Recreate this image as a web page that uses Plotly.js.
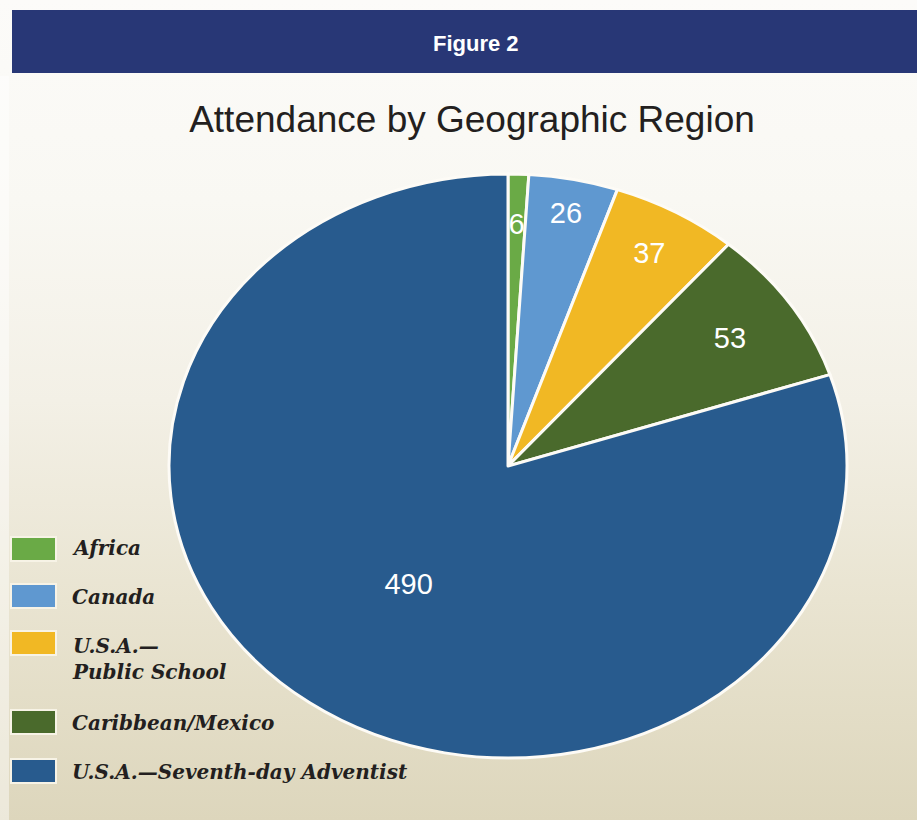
<!DOCTYPE html>
<html><head><meta charset="utf-8">
<script src="https://cdn.plot.ly/plotly-3.0.1.min.js"></script>
<style>
html,body{margin:0;padding:0;background:#fff;}
#chart{width:917px;height:820px;background:linear-gradient(to bottom,#fcfbf9 0px,#f9f8f3 200px,#f3f0e6 400px,#e9e4d1 600px,#ddd6bc 820px);}
.pielayer path.surface{vector-effect:non-scaling-stroke;}
</style></head><body><div id="chart"></div>
<script>
// ---- data ----
const regions = ['Africa', 'Canada', 'U.S.A.—<br>Public School', 'Caribbean/Mexico', 'U.S.A.—Seventh-day Adventist'];
const attendance = [6, 26, 37, 53, 490];
const sliceColors = ['#6aaa46', '#5f98d0', '#f1b824', '#4a6a2c', '#285b8e'];
const chartTitle = 'Attendance by Geographic Region';
const figureLabel = 'Figure 2';

// ---- layout helpers (pixel -> paper) ----
const W = 917, H = 820;
const fx = x => x / W;
const fy = y => 1 - y / H;

const cx = 508, cy = 466, r = 292;      // pie centre / vertical radius (px)
const stretchX = 339 / 292;              // reference pie is an ellipse

const swatchY = [549, 596, 643, 722, 771];
const labelY = [548, 597, 659, 723, 772];

const shapes = [
  {type: 'rect', xref: 'paper', yref: 'paper', x0: fx(12), x1: 1.01, y0: fy(73), y1: fy(10),
   fillcolor: '#283776', line: {width: 0}, layer: 'below'},
  {type: 'rect', xref: 'paper', yref: 'paper', x0: 0, x1: fx(9), y0: 0, y1: fy(76),
   fillcolor: 'rgba(255,255,255,0.45)', line: {width: 0}, layer: 'below'}
];
const annotations = [
  {xref: 'paper', yref: 'paper', x: fx(476), y: fy(43), xanchor: 'center', yanchor: 'middle',
   text: '<b>' + figureLabel + '</b>', showarrow: false,
   font: {family: '"Liberation Sans", Arial, sans-serif', size: 22, color: '#ffffff'}}
];
regions.forEach((lab, i) => {
  shapes.push({type: 'rect', xref: 'paper', yref: 'paper', x0: fx(11), x1: fx(56),
    y0: fy(swatchY[i] + 12), y1: fy(swatchY[i] - 12),
    fillcolor: sliceColors[i], line: {color: '#f7f3e6', width: 2}});
  annotations.push({xref: 'paper', yref: 'paper', x: fx(70), y: fy(labelY[i]),
    xanchor: 'left', yanchor: 'middle', align: 'left', showarrow: false, text: lab,
    font: {family: '"DejaVu Serif", "Liberation Serif", serif', size: 20, color: '#231f20',
           style: 'italic', weight: 'bold'}});
});

const trace = {
  type: 'pie',
  labels: regions,
  values: attendance,
  sort: false,
  direction: 'clockwise',
  rotation: 0,
  marker: {colors: sliceColors, line: {color: '#fdfbf6', width: 3}},
  textinfo: 'value',
  textposition: 'inside',
  insidetextorientation: 'horizontal',
  textfont: {family: '"Liberation Sans", Arial, sans-serif', size: 29, color: '#ffffff'},
  domain: {x: [fx(cx - r), fx(cx + r)], y: [fy(cy + r), fy(cy - r)]},
  hoverinfo: 'label+value',
  showlegend: false
};

const layout = {
  width: W, height: H,
  margin: {l: 0, r: 0, t: 0, b: 0},
  paper_bgcolor: 'rgba(0,0,0,0)',
  plot_bgcolor: 'rgba(0,0,0,0)',
  showlegend: false,
  uniformtext: {mode: 'show', minsize: 29},
  title: {text: chartTitle, x: fx(472), y: fy(119), xref: 'paper', yref: 'container',
          xanchor: 'center', yanchor: 'middle',
          font: {family: 'Arial, "Liberation Sans", Helvetica, sans-serif', size: 37, color: '#231f20'}},
  shapes: shapes,
  annotations: annotations
};

Plotly.newPlot('chart', [trace], layout, {displayModeBar: false, staticPlot: true}).then(gd => {
  const cd = gd.calcdata[0];
  const cd0 = cd[0];
  const pcx = cd0.cx, pcy = cd0.cy;
  const total = attendance.reduce((a, b) => a + b, 0);
  // stretch slice shapes horizontally into the reference's ellipse
  gd.querySelectorAll('.pielayer path.surface').forEach(p =>
    p.setAttribute('transform', `translate(${pcx},0) scale(${stretchX},1) translate(${-pcx},0)`));
  const svgRect = gd.querySelector('.main-svg').getBoundingClientRect();
  gd.querySelectorAll('.pielayer g.slice').forEach(g => {
    const pt = g.__data__;
    const t = g.querySelector('g.slicetext text');
    if (!t || !pt) return;
    const bb = t.getBoundingClientRect();
    const curX = bb.left + bb.width / 2 - svgRect.left;
    const curY = bb.top + bb.height / 2 - svgRect.top;
    const hide = pt.transform ? pt.transform.hide : (pt.v / total < 0.02);
    let tx, ty;
    if (hide && pt.pxmid) {
      tx = pcx + 0.83 * pt.pxmid[0] * stretchX;
      ty = pcy + 0.83 * pt.pxmid[1];
    } else {
      tx = pcx + (curX - pcx) * stretchX;
      ty = curY;
    }
    const old = t.getAttribute('transform') || '';
    t.setAttribute('transform', `translate(${tx - curX},${ty - curY}) ` + old);
  });
});
</script></body></html>
